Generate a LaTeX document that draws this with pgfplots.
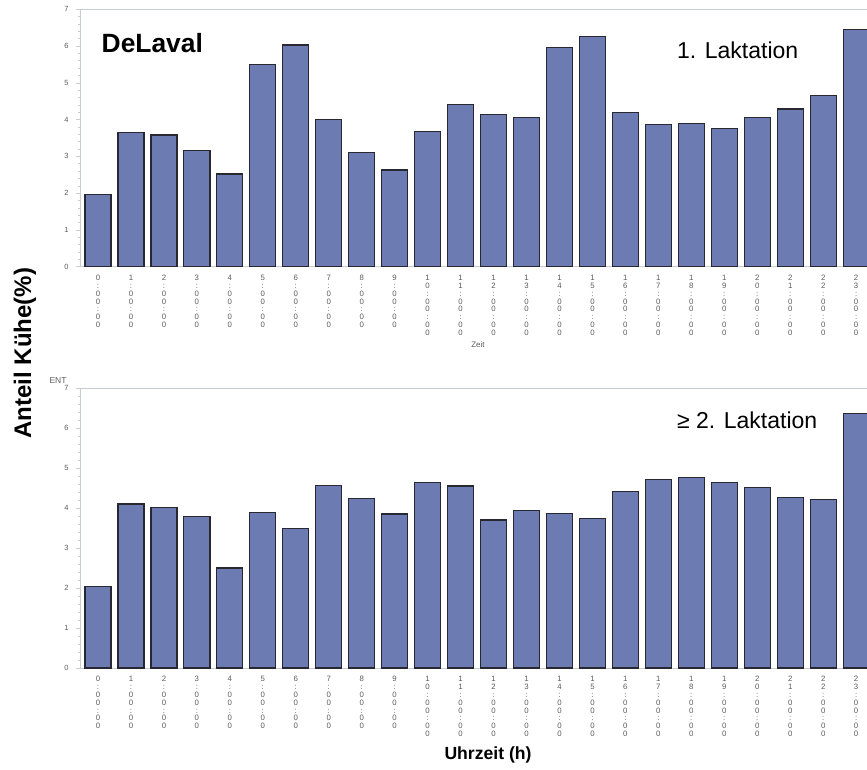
\documentclass[border=0pt]{standalone}
\usepackage{pgfplots}
\pgfplotsset{compat=1.18}
\usepackage{fontspec}
\setmainfont{Liberation Sans}
\definecolor{barfill}{RGB}{108,123,178}
\definecolor{baredge}{RGB}{40,40,50}
\definecolor{axgray}{RGB}{200,205,212}
\definecolor{tkgray}{RGB}{90,90,90}
\newcommand{\hr}[1]{#1\\:\\0\\0\\:\\0\\0}
\pgfplotsset{
 panel/.style={
  scale only axis, width=787pt, anchor=south west,
  xmin=-0.546, xmax=23.33, ymin=0, ymax=7,
  ybar, bar width=0.79,
  ytick={0,...,7}, minor y tick num=4,
  xtick={0,...,23},
  xticklabels={{\hr{0}},{\hr{1}},{\hr{2}},{\hr{3}},{\hr{4}},{\hr{5}},{\hr{6}},{\hr{7}},{\hr{8}},{\hr{9}},
   {\hr{1\\0}},{\hr{1\\1}},{\hr{1\\2}},{\hr{1\\3}},{\hr{1\\4}},{\hr{1\\5}},{\hr{1\\6}},{\hr{1\\7}},{\hr{1\\8}},{\hr{1\\9}},
   {\hr{2\\0}},{\hr{2\\1}},{\hr{2\\2}},{\hr{2\\3}}},
  axis line style={axgray, line width=0.8pt},
  tick align=outside,
  major tick length=4pt, minor tick length=2pt,
  ytick style={axgray, line width=0.6pt},
  xtick style={draw=none},
  yticklabel style={font=\fontsize{7.5}{7.5}\selectfont, text=tkgray, xshift=-4pt},
  xticklabel style={font=\fontsize{7.8}{7.8}\selectfont, text=tkgray, align=center, yshift=-1pt},
  /pgf/number format/assume math mode=true,
 },
 mybar/.style={fill=barfill, draw=baredge, line width=1.2pt}
}
\begin{document}
\begin{tikzpicture}
\path[use as bounding box] (0,0) rectangle (867pt,-769pt);
\begin{axis}[panel, at={(80pt,-266.7pt)}, height=257.4pt]
\addplot[mybar] coordinates {
(0,1.97) (1,3.66) (2,3.58) (3,3.16) (4,2.52) (5,5.50) (6,6.03) (7,4.01)
(8,3.11) (9,2.63) (10,3.68) (11,4.42) (12,4.13) (13,4.05) (14,5.97) (15,6.27)
(16,4.19) (17,3.86) (18,3.90) (19,3.76) (20,4.05) (21,4.29) (22,4.66) (23,6.46)};
\end{axis}
\begin{axis}[panel, at={(80pt,-668pt)}, height=280pt]
\addplot[mybar] coordinates {
(0,2.03) (1,4.10) (2,4.01) (3,3.78) (4,2.50) (5,3.88) (6,3.48) (7,4.57)
(8,4.23) (9,3.85) (10,4.64) (11,4.55) (12,3.70) (13,3.93) (14,3.87) (15,3.74)
(16,4.41) (17,4.72) (18,4.76) (19,4.64) (20,4.52) (21,4.26) (22,4.22) (23,6.37)};
\end{axis}
\node[font=\bfseries\fontsize{26.4}{28}\selectfont, anchor=west, inner sep=0] at (101.5pt,-43pt) {DeLaval};
\node[font=\fontsize{23}{25}\selectfont, anchor=west, inner sep=0] at (677pt,-50pt) {1. Laktation};
\node[font=\fontsize{23}{25}\selectfont, anchor=west, inner sep=0] at (677pt,-420pt) {≥ 2. Laktation};
\node[font=\bfseries\fontsize{24}{26}\selectfont, rotate=90, inner sep=0] at (25pt,-353pt) {Anteil Kühe(\%)};
\node[font=\fontsize{8}{9}\selectfont, text=tkgray, inner sep=0] at (478pt,-345pt) {Zeit};
\node[font=\fontsize{8.5}{9}\selectfont, text=tkgray, inner sep=0] at (58pt,-381pt) {ENT};
\node[font=\bfseries\fontsize{17.6}{19}\selectfont, inner sep=0] at (488pt,-755pt) {Uhrzeit (h)};
\end{tikzpicture}
\end{document}
